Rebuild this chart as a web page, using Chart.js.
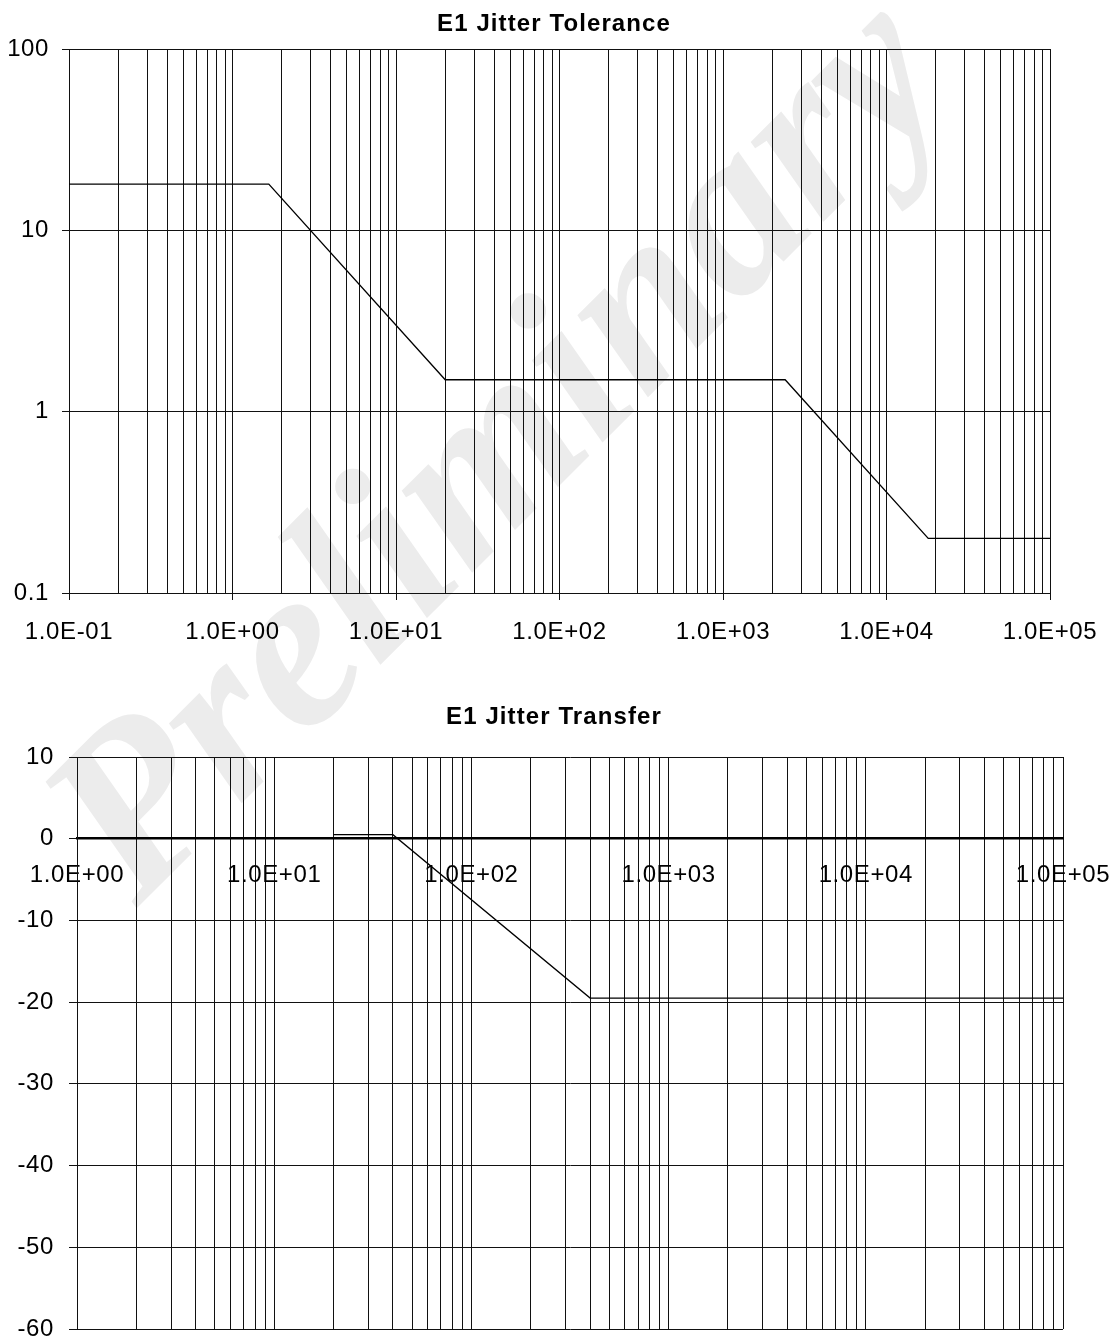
<!DOCTYPE html>
<html>
<head>
<meta charset="utf-8">
<title>E1 Jitter</title>
<script src="https://cdn.jsdelivr.net/npm/chart.js@4.4.1/dist/chart.umd.min.js"></script>
<style>
  html, body { margin: 0; padding: 0; background: #fff; overflow: hidden; }
  #page { position: relative; width: 1116px; height: 1338px; overflow: hidden; }
  .watermark {
    position: absolute; left: 492px; top: 442px;
    transform: translate(-50%, -50%) rotate(-45deg);
    font: italic bold 235px 'Liberation Serif', 'Times New Roman', serif;
    color: #ececec; white-space: nowrap; line-height: 1; z-index: 0;
  }
  .box { position: absolute; left: 0; width: 1116px; z-index: 1; }
  #boxTol { top: 0; height: 670px; }
  #boxTr { top: 680px; height: 670px; }
</style>
</head>
<body>
<div id="page">
  <div class="watermark">Preliminary</div>
  <div class="box" id="boxTol"><canvas id="chartTol"></canvas></div>
  <div class="box" id="boxTr"><canvas id="chartTr"></canvas></div>
</div>
<script>
/* =============================================
   DATA
   ============================================= */
// Jitter tolerance mask (UI vs Hz)
const tolTitle = 'E1 Jitter Tolerance';
const tolFreq = [0.1, 1.667, 20, 2400, 18000, 100000];
const tolUI = [18, 18, 1.5, 1.5, 0.2, 0.2];
const tolDecades = [0.1, 1, 10, 100, 1000, 10000, 100000];
const tolXLabels = ['1.0E-01', '1.0E+00', '1.0E+01', '1.0E+02', '1.0E+03', '1.0E+04', '1.0E+05'];
const tolYTicks = [0.1, 1, 10, 100];
const tolYLabels = ['0.1', '1', '10', '100'];

// Jitter transfer mask (dB vs Hz)
const trTitle = 'E1 Jitter Transfer';
const trFreq = [20, 40, 400, 100000];
const trGain = [0.5, 0.5, -19.5, -19.5];
const trDecades = [1, 10, 100, 1000, 10000, 100000];
const trXLabels = ['1.0E+00', '1.0E+01', '1.0E+02', '1.0E+03', '1.0E+04', '1.0E+05'];
const trYTicks = [-60, -50, -40, -30, -20, -10, 0, 10];
const trYLabels = ['-60', '-50', '-40', '-30', '-20', '-10', '0', '10'];

/* =============================================
   HELPERS
   ============================================= */
const INK = '#111';
const FONT = "'Liberation Sans', Arial, sans-serif";
const tickFont = { family: FONT, size: 24 };

// 1..9 x every decade, decades flagged as major
function logTicks(decades) {
  const out = [];
  decades.forEach((d, i) => {
    if (i === decades.length - 1) {
      out.push({ value: d, major: true, li: i });
      return;
    }
    for (let m = 1; m <= 9; m++) {
      out.push(m === 1 ? { value: d, major: true, li: i } : { value: d * m, major: false });
    }
  });
  return out;
}

function labelFrom(labels) {
  return (v, i, ticks) => (ticks[i].li !== undefined ? labels[ticks[i].li] : '');
}

function toPoints(xs, ys) {
  return xs.map((x, i) => ({ x: x, y: ys[i] }));
}

// keep the plot box where the layout padding puts it
function noEdgePadding(s) {
  s.paddingLeft = 0; s.paddingRight = 0; s.paddingTop = 0; s.paddingBottom = 0;
}

const majorTick = c => (c.tick && c.tick.major ? INK : 'rgba(0,0,0,0)');

// Excel-like title, a bit letter-spaced, centred over the whole chart
const plainTitle = {
  id: 'plainTitle',
  beforeDraw(chart) {
    chart.ctx.letterSpacing = '0.6px';
  },
  afterDraw(chart, args, opts) {
    const ctx = chart.ctx;
    ctx.save();
    ctx.letterSpacing = '1.1px';
    ctx.font = 'bold 24px ' + FONT;
    ctx.fillStyle = '#000';
    ctx.textAlign = 'center';
    ctx.textBaseline = 'middle';
    ctx.fillText(opts.text, opts.x, opts.y);
    ctx.restore();
  }
};

/* =============================================
   E1 JITTER TOLERANCE
   ============================================= */
new Chart(document.getElementById('chartTol'), {
  type: 'line',
  data: {
    datasets: [{
      data: toPoints(tolFreq, tolUI),
      borderColor: '#000', borderWidth: 1.3,
      pointRadius: 0, fill: false, tension: 0
    }]
  },
  plugins: [plainTitle],
  options: {
    responsive: true, maintainAspectRatio: false,
    animation: false, events: [],
    layout: { padding: { left: 0, right: 66, top: 49, bottom: 0 } },
    plugins: {
      legend: { display: false },
      tooltip: { enabled: false },
      plainTitle: { text: tolTitle, x: 554, y: 24 }
    },
    scales: {
      x: {
        type: 'logarithmic', min: 0.1, max: 100000,
        afterBuildTicks: s => { s.ticks = logTicks(tolDecades); },
        afterFit: s => { s.height = 77; noEdgePadding(s); },
        grid: { color: INK, lineWidth: 1, tickLength: 7, tickColor: majorTick },
        border: { color: INK, width: 1 },
        ticks: {
          autoSkip: false, maxRotation: 0, minRotation: 0,
          padding: 17.5, color: '#000', font: tickFont,
          callback: labelFrom(tolXLabels)
        }
      },
      y: {
        type: 'logarithmic', min: 0.1, max: 100,
        afterBuildTicks: s => { s.ticks = tolYTicks.map((v, i) => ({ value: v, li: i })); },
        afterFit: s => { s.width = 69; noEdgePadding(s); },
        grid: { color: INK, lineWidth: 1, tickLength: 7, tickColor: INK },
        border: { color: INK, width: 1 },
        ticks: { padding: 13, color: '#000', font: tickFont, callback: labelFrom(tolYLabels) }
      }
    }
  }
});

/* =============================================
   E1 JITTER TRANSFER
   ============================================= */
new Chart(document.getElementById('chartTr'), {
  type: 'line',
  data: {
    datasets: [{
      data: toPoints(trFreq, trGain),
      borderColor: '#000', borderWidth: 1.3,
      pointRadius: 0, fill: false, tension: 0
    }]
  },
  plugins: [plainTitle],
  options: {
    responsive: true, maintainAspectRatio: false,
    animation: false, events: [],
    layout: { padding: { left: 0, right: 53, top: 77, bottom: 21 } },
    plugins: {
      legend: { display: false },
      tooltip: { enabled: false },
      plainTitle: { text: trTitle, x: 554, y: 37 }
    },
    scales: {
      x: {
        type: 'logarithmic', min: 1, max: 100000,
        position: { y: 0 },
        afterBuildTicks: s => { s.ticks = logTicks(trDecades); },
        afterFit: s => { noEdgePadding(s); },
        grid: { color: INK, lineWidth: 1, tickLength: 5, tickColor: majorTick },
        border: { color: '#000', width: 2.5 },
        ticks: {
          autoSkip: false, maxRotation: 0, minRotation: 0,
          padding: 17, color: '#000', font: tickFont,
          callback: labelFrom(trXLabels)
        }
      },
      y: {
        type: 'linear', min: -60, max: 10,
        afterBuildTicks: s => { s.ticks = trYTicks.map((v, i) => ({ value: v, li: i })); },
        afterFit: s => { s.width = 77; noEdgePadding(s); },
        grid: { color: INK, lineWidth: 1, tickLength: 8, tickColor: INK },
        border: { color: INK, width: 1 },
        ticks: { padding: 15, color: '#000', font: tickFont, callback: labelFrom(trYLabels) }
      }
    }
  }
});
</script>
</body>
</html>
